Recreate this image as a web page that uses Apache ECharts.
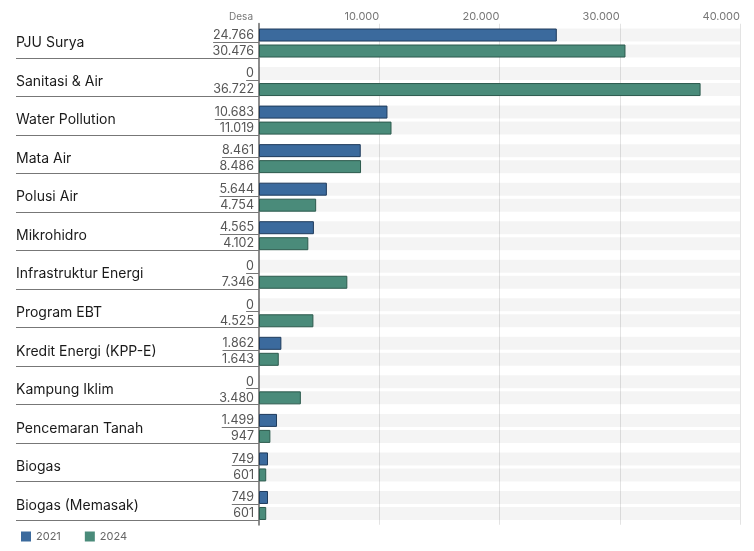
<!DOCTYPE html>
<html>
<head>
<meta charset="utf-8">
<script src="https://cdn.jsdelivr.net/npm/echarts@6/dist/echarts.min.js"></script>
<style>
  html, body { margin: 0; padding: 0; background: #fff; }
  #chart { width: 754px; height: 551px; }
</style>
</head>
<body>
<div id="chart"></div>
<script>
var categories = ['PJU Surya', 'Sanitasi & Air', 'Water Pollution', 'Mata Air', 'Polusi Air', 'Mikrohidro',
    'Infrastruktur Energi', 'Program EBT', 'Kredit Energi (KPP-E)', 'Kampung Iklim', 'Pencemaran Tanah',
    'Biogas', 'Biogas (Memasak)']
var years = ['2021', '2024']
var values2021 = [24766, 0, 10683, 8461, 5644, 4565, 0, 0, 1862, 0, 1499, 749, 749]
var values2024 = [30476, 36722, 11019, 8486, 4754, 4102, 7346, 4525, 1643, 3480, 947, 601, 601]
var axisTicks = [0, 10000, 20000, 30000, 40000]
var axisUnit = 'Desa'

var FONT = 'Inter, "Noto Sans", sans-serif'
var barW = 13
var barGapPx = 3
var labelLeft = 16

function fmt(v) {
    return String(v).replace(/\B(?=(\d{3})+(?!\d))/g, '.')
}

// measure the value labels so the underline starts where the text starts
var ctx = document.createElement('canvas').getContext('2d')
ctx.font = '12.5px ' + FONT
function textW(s) {
    return ctx.measureText(s).width
}

// zero bars get no outline, otherwise a stub shows at the axis
function barData(vals) {
    return vals.map(function (v) {
        return v === 0 ? { value: v, itemStyle: { borderWidth: 0 } } : v
    })
}

var lineData = []
for (var i = 0; i < categories.length; i++) {
    lineData.push([0, i, values2021[i]])
}

var dom = document.getElementById('chart')
var myChart = echarts.init(dom)

var valueLabel = {
    show: true,
    position: 'left',
    distance: 5,
    color: '#555',
    fontSize: 12.5,
    fontFamily: FONT,
    formatter: function (p) { return fmt(p.value) }
}

var option = {
    animation: false,
    textStyle: { fontFamily: FONT },
    grid: { left: 259, right: 14, top: 23.75, bottom: 26.25 },
    legend: {
        left: 16,
        top: 526,
        icon: 'rect',
        itemWidth: 10,
        itemHeight: 10,
        itemGap: 24,
        itemStyle: { borderWidth: 0 },
        textStyle: { color: '#666', fontSize: 11, fontFamily: FONT },
        data: years
    },
    xAxis: {
        type: 'value',
        position: 'top',
        min: axisTicks[0],
        max: axisTicks[axisTicks.length - 1],
        interval: axisTicks[1] - axisTicks[0],
        axisLine: { show: false },
        axisTick: { show: false },
        axisLabel: {
            align: 'right',
            margin: 2,
            color: '#777',
            fontSize: 11,
            fontFamily: FONT,
            formatter: function (v) {
                return v === 0 ? '{u|' + axisUnit + '}' : fmt(v)
            },
            rich: {
                u: { color: '#777', fontSize: 10, fontFamily: FONT, padding: [0, 6, 0, 0] }
            }
        },
        splitLine: { lineStyle: { color: '#e3e3e3', width: 1 } }
    },
    yAxis: {
        type: 'category',
        inverse: true,
        data: categories,
        axisTick: { show: false },
        axisLine: { show: true, lineStyle: { color: '#8c8c8c', width: 2 } },
        axisLabel: {
            align: 'left',
            margin: 259 - labelLeft,
            color: '#1a1a1a',
            fontSize: 14,
            fontFamily: FONT
        }
    },
    series: [
        {
            name: years[0],
            type: 'bar',
            data: barData(values2021),
            barWidth: barW,
            barGap: (barGapPx / barW * 100) + '%',
            showBackground: true,
            backgroundStyle: { color: 'rgba(0,0,0,0.045)' },
            itemStyle: { color: '#3b6a9d', borderColor: '#1f3b5c', borderWidth: 1 },
            label: valueLabel
        },
        {
            name: years[1],
            type: 'bar',
            data: barData(values2024),
            barWidth: barW,
            showBackground: true,
            backgroundStyle: { color: 'rgba(0,0,0,0.045)' },
            itemStyle: { color: '#4a8b7a', borderColor: '#2c5a4d', borderWidth: 1 },
            label: valueLabel
        },
        {
            // underline under the 2021 value and row separator under the 2024 value
            type: 'custom',
            silent: true,
            clip: false,
            z: 5,
            data: lineData,
            encode: { x: 0, y: 1 },
            renderItem: function (params, api) {
                var p = api.coord([api.value(0), api.value(1)])
                var x0 = p[0]
                var yc = p[1]
                var w = textW(fmt(api.value(2)))
                var y1 = Math.round(yc - barGapPx / 2) + 0.5
                var y2 = Math.round(yc + barGapPx / 2 + barW) + 0.5
                var style = { stroke: '#777', lineWidth: 1 }
                return {
                    type: 'group',
                    children: [
                        { type: 'line', shape: { x1: x0 - 5 - w, y1: y1, x2: x0, y2: y1 }, style: style },
                        { type: 'line', shape: { x1: labelLeft, y1: y2, x2: x0, y2: y2 }, style: style }
                    ]
                }
            }
        }
    ]
}

myChart.setOption(option)
</script>
</body>
</html>
